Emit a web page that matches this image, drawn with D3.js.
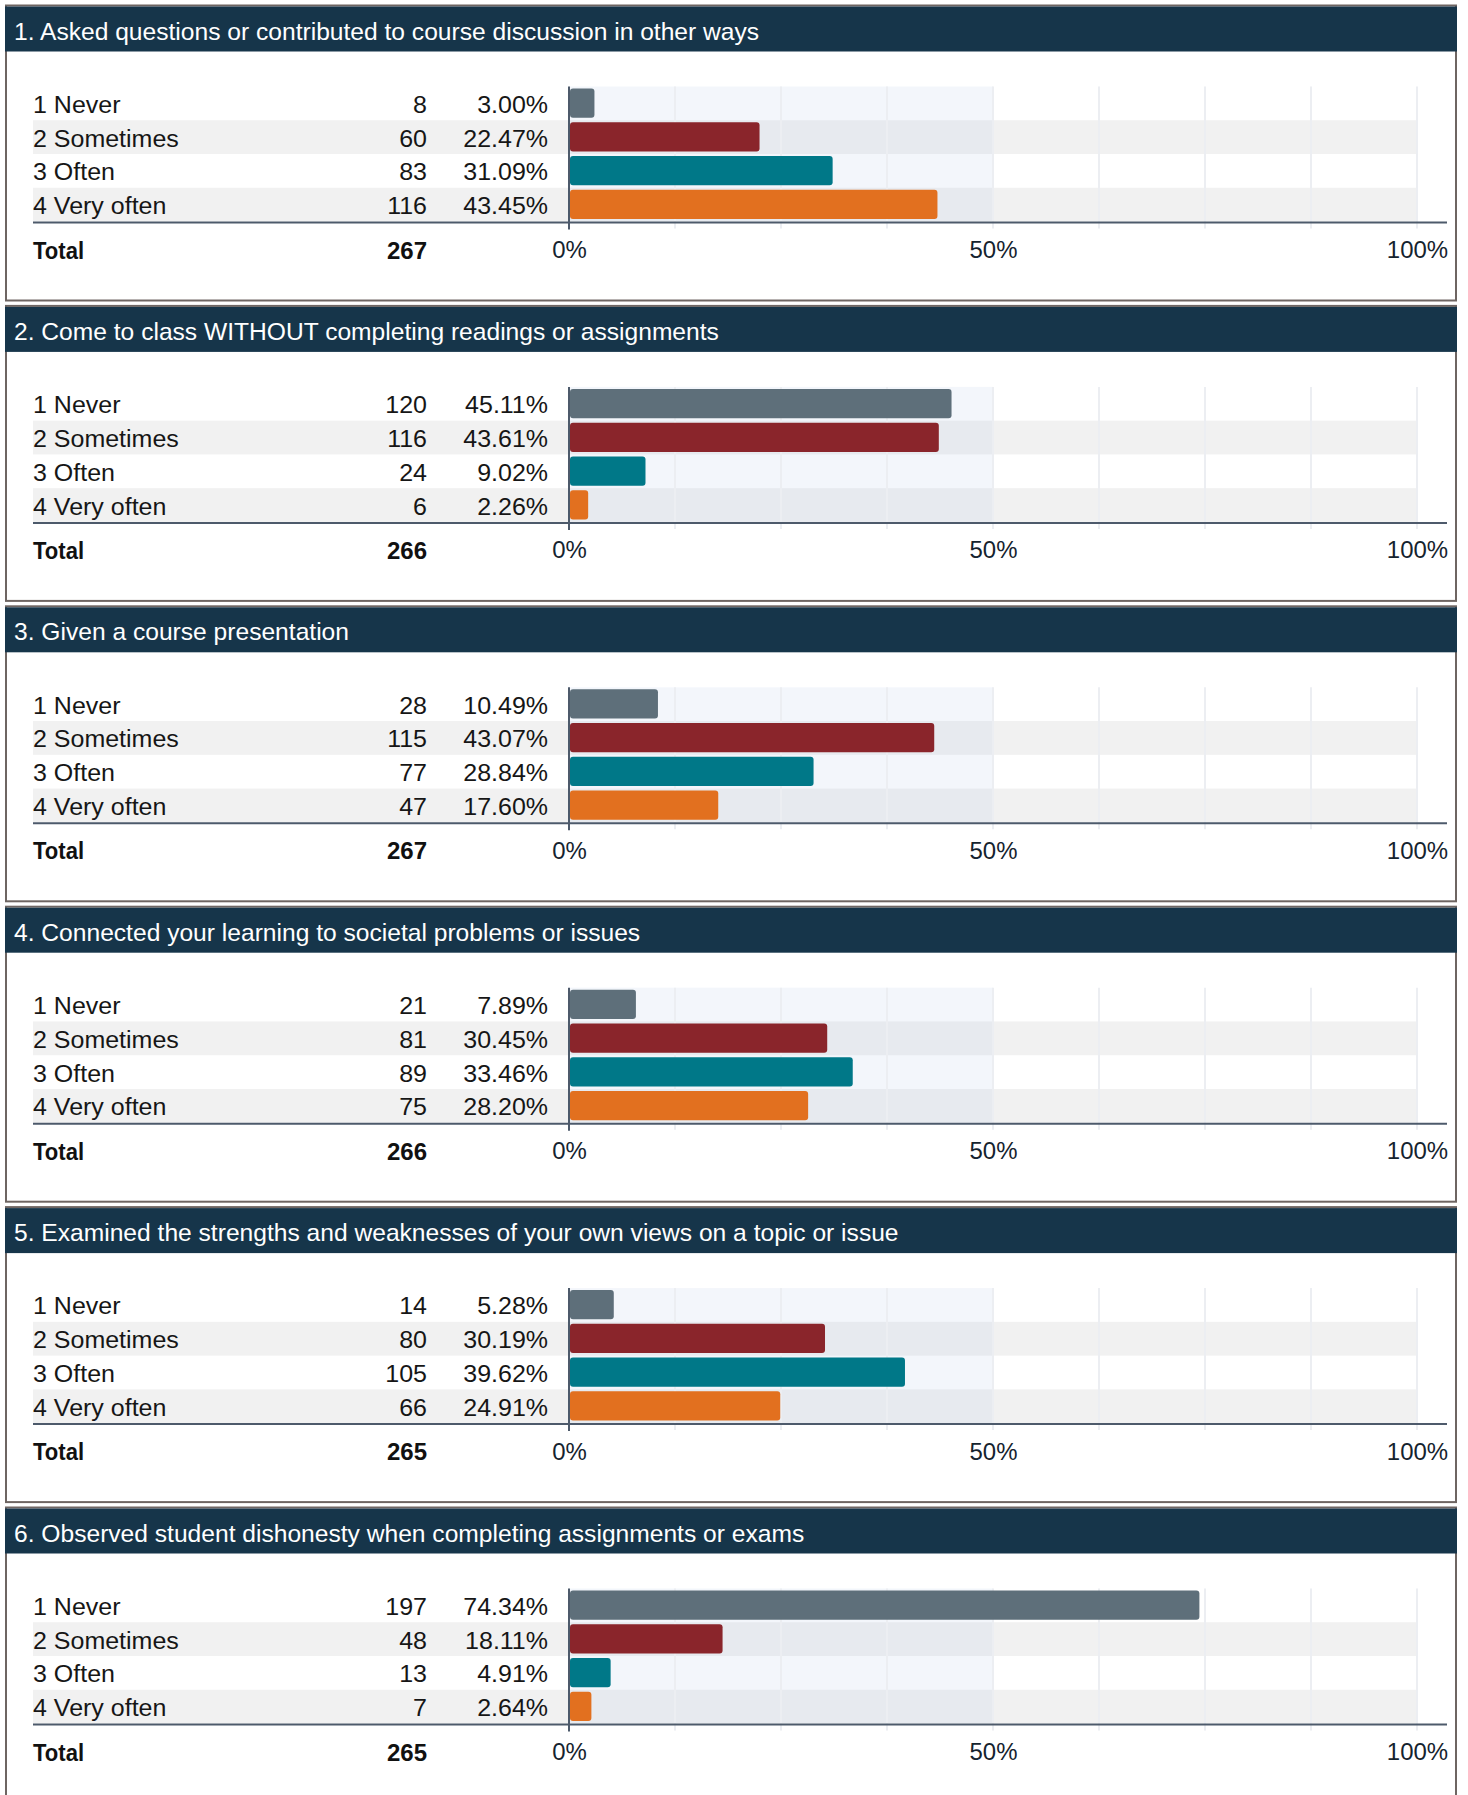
<!DOCTYPE html>
<html>
<head>
<meta charset="utf-8">
<script src="https://cdn.jsdelivr.net/npm/d3@7"></script>
<style>
  html, body { margin: 0; padding: 0; background: #fff; }
  svg { display: block; font-family: "Liberation Sans", Arial, Helvetica, sans-serif; }
</style>
</head>
<body>
<svg id="chart" width="1468" height="1795"></svg>
<script>
// Survey questions, one panel each
const questions = [
  "1. Asked questions or contributed to course discussion in other ways",
  "2. Come to class WITHOUT completing readings or assignments",
  "3. Given a course presentation",
  "4. Connected your learning to societal problems or issues",
  "5. Examined the strengths and weaknesses of your own views on a topic or issue",
  "6. Observed student dishonesty when completing assignments or exams"
];

// Answer options (shared by every question)
const categories = ["1 Never", "2 Sometimes", "3 Often", "4 Very often"];

// Response counts per question
const counts = [
  [8, 60, 83, 116],
  [120, 116, 24, 6],
  [28, 115, 77, 47],
  [21, 81, 89, 75],
  [14, 80, 105, 66],
  [197, 48, 13, 7]
];

// Response shares (%) per question
const percents = [
  [3.00, 22.47, 31.09, 43.45],
  [45.11, 43.61, 9.02, 2.26],
  [10.49, 43.07, 28.84, 17.60],
  [7.89, 30.45, 33.46, 28.20],
  [5.28, 30.19, 39.62, 24.91],
  [74.34, 18.11, 4.91, 2.64]
];

// Total respondents per question
const totals = [267, 266, 267, 266, 265, 265];

// Axis labels and gridline positions
const tickLabels = [0, 50, 100];
const gridValues = [12.5, 25, 37.5, 50, 62.5, 75, 87.5, 100];

const colors = ["#5e6f7a", "#8a252b", "#007888", "#e2701f"];

const svg = d3.select("#chart");

// Layout
const panelTop0 = 4.5, panelPitch = 300.4, panelHeight = 297;
const boxLeft = 6, boxRight = 1456;
const labelX = 33, countX = 427, pctX = 548;
const x = d3.scaleLinear().domain([0, 100]).range([569, 1417]);

// Text set in a slightly widened face
const fs = 23.5, stretch = 1.064;
function put(g, str, px, py, opts = {}) {
  return g.append("text")
    .attr("transform", `translate(${px},${py}) scale(${opts.sx ?? stretch},1)`)
    .attr("text-anchor", opts.anchor || "start")
    .attr("font-size", opts.size || fs)
    .attr("font-weight", opts.bold ? "bold" : null)
    .attr("fill", opts.fill || "#161616")
    .text(str);
}

questions.forEach((q, i) => {
  const T = panelTop0 + i * panelPitch;
  const g = svg.append("g").attr("class", "panel");

  // panel frame
  g.append("rect")
    .attr("x", boxLeft).attr("y", T + 1)
    .attr("width", boxRight - boxLeft).attr("height", panelHeight - 2)
    .attr("fill", "#fff").attr("stroke", "#6e6562").attr("stroke-width", 2);

  // header band
  g.append("rect")
    .attr("x", boxLeft - 1).attr("y", T + 2)
    .attr("width", boxRight - boxLeft + 2).attr("height", 45)
    .attr("fill", "#16354a");
  put(g, q, 14, T + 35, { size: 24, sx: 1.025, fill: "#fff" });

  const y = d3.scaleBand().domain(categories).range([T + 82, T + 217]);
  const bh = y.bandwidth();

  // alternating row stripes
  g.selectAll(".stripe").data(categories.filter((c, k) => k % 2 === 1)).join("rect")
    .attr("x", labelX).attr("y", c => y(c))
    .attr("width", x(100) - labelX).attr("height", bh)
    .attr("fill", "#f1f1f1");

  // tinted half of the plot area
  g.append("rect")
    .attr("x", x(0)).attr("y", T + 82)
    .attr("width", x(50) - x(0)).attr("height", 135)
    .attr("fill", "#c5d3ea").attr("fill-opacity", 0.2);

  // gridlines
  g.selectAll(".grid").data(gridValues).join("line")
    .attr("x1", d => x(d)).attr("x2", d => x(d))
    .attr("y1", T + 82).attr("y2", T + 224)
    .attr("stroke", "#eceef2").attr("stroke-width", 2);

  // bars
  g.selectAll(".bar").data(categories).join("rect")
    .attr("x", x(0) + 1)
    .attr("y", c => y(c) + 2)
    .attr("width", (c, k) => Math.max(0, x(percents[i][k]) - x(0) - 1))
    .attr("height", bh - 4.5)
    .attr("rx", 3).attr("ry", 3)
    .attr("fill", (c, k) => colors[k]);

  // row labels, counts, percentages
  categories.forEach((c, k) => {
    const base = y(c) + bh / 2 + 9.5;
    put(g, c, labelX, base);
    put(g, counts[i][k], countX, base, { anchor: "end" });
    put(g, percents[i][k].toFixed(2) + "%", pctX, base, { anchor: "end" });
  });

  // bottom axis rule
  g.append("line")
    .attr("x1", labelX).attr("x2", 1447)
    .attr("y1", T + 218).attr("y2", T + 218)
    .attr("stroke", "#4d5a6b").attr("stroke-width", 2);

  // zero line
  g.append("line")
    .attr("x1", x(0)).attr("x2", x(0))
    .attr("y1", T + 82).attr("y2", T + 225)
    .attr("stroke", "#4d5a6b").attr("stroke-width", 2);

  // percent tick labels
  const axis = d3.axisBottom(x).tickValues(tickLabels).tickSize(0).tickPadding(0)
    .tickFormat(d => d + "%");
  const ag = g.append("g").attr("transform", `translate(0,${T + 253.5})`).call(axis);
  ag.select(".domain").remove();
  ag.selectAll("text")
    .attr("y", 0).attr("dy", null)
    .attr("transform", "scale(1.02,1)")
    .attr("font-size", 23.5).attr("fill", "#15232e")
    .attr("font-family", "\"Liberation Sans\", Arial, sans-serif");

  // total row
  put(g, "Total", labelX, T + 254, { bold: true, size: 24, sx: 0.92, fill: "#111" });
  put(g, totals[i], countX, T + 254, { bold: true, size: 24, sx: 1.0, anchor: "end", fill: "#111" });
});
</script>
</body>
</html>
